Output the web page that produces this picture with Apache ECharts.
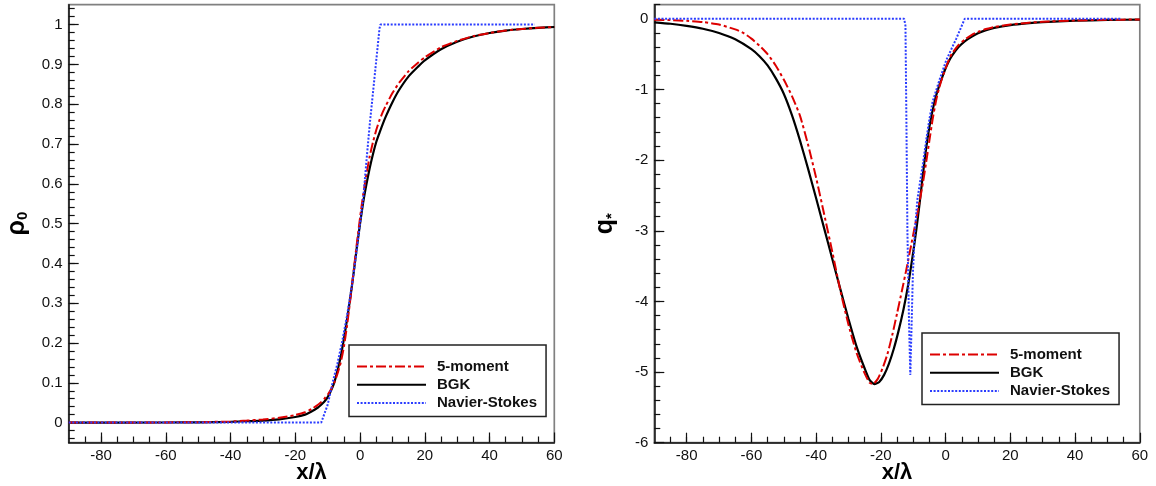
<!DOCTYPE html>
<html><head><meta charset="utf-8">
<script src="https://cdn.jsdelivr.net/npm/echarts@6/dist/echarts.min.js"></script>
<style>html,body{margin:0;padding:0;background:#fff}#c{width:1156px;height:486px}</style>
</head><body><div id="c"></div>
<script>
const seriesNames = ['5-moment', 'BGK', 'Navier-Stokes'];
const xMajorTicks = [-80, -60, -40, -20, 0, 20, 40, 60];
const rhoMajorTicks = [0, 0.1, 0.2, 0.3, 0.4, 0.5, 0.6, 0.7, 0.8, 0.9, 1];
const qMajorTicks = [-6, -5, -4, -3, -2, -1, 0];

// density profile rho_0 vs x/lambda
const rho5moment = [[-90,0],[-60,0.0005],[-50,0.001],[-40,0.003],[-35,0.005],[-30,0.008],[-25,0.012],[-20,0.019],[-17,0.026],[-15,0.034],[-13,0.045],[-12,0.052],[-11,0.06],[-10,0.07],[-9,0.083],[-8,0.1],[-7,0.122],[-6,0.15],[-5,0.19],[-4,0.245],[-3,0.31],[-2,0.38],[-1,0.45],[0,0.515],[1,0.575],[2,0.625],[3,0.67],[4,0.705],[5,0.735],[6,0.76],[7,0.78],[8,0.797],[10,0.828],[12,0.853],[15,0.883],[18,0.905],[20,0.918],[25,0.943],[30,0.959],[35,0.971],[40,0.979],[45,0.985],[50,0.989],[55,0.992],[60,0.994]];
const rhoBGK = [[-90,0],[-60,0.0003],[-50,0.0008],[-40,0.002],[-35,0.0035],[-30,0.005],[-25,0.008],[-20,0.014],[-17,0.02],[-15,0.028],[-13,0.038],[-12,0.045],[-11,0.053],[-10,0.064],[-9,0.08],[-8,0.1],[-7,0.13],[-6,0.165],[-5,0.21],[-4,0.26],[-3,0.315],[-2,0.375],[-1,0.44],[0,0.5],[1,0.555],[2,0.6],[3,0.64],[4,0.675],[5,0.705],[6,0.728],[7,0.75],[8,0.77],[10,0.805],[12,0.835],[15,0.87],[18,0.895],[20,0.91],[25,0.938],[30,0.957],[35,0.97],[40,0.979],[45,0.985],[50,0.989],[55,0.992],[60,0.994]];
const rhoNS = [[-90,0],[-12,0],[-11.5,0.003],[-10,0.045],[-8.5,0.1],[-7,0.148],[-5.5,0.205],[-4,0.27],[-2.5,0.345],[-1,0.435],[0,0.5],[1,0.565],[2,0.66],[3,0.75],[4,0.83],[5,0.91],[6,0.99],[6.3,1],[54,1]];

// heat flux q_* vs x/lambda
const q5moment = [[-90,-0.012],[-85,-0.018],[-80,-0.028],[-75,-0.045],[-70,-0.08],[-65,-0.15],[-62.5,-0.2],[-60,-0.28],[-57.5,-0.38],[-55,-0.5],[-52.5,-0.66],[-50,-0.86],[-47.5,-1.09],[-45,-1.37],[-42.5,-1.78],[-40,-2.25],[-37.5,-2.77],[-35,-3.3],[-32.5,-3.85],[-30,-4.33],[-27.5,-4.73],[-25,-5.02],[-23.5,-5.15],[-22.5,-5.17],[-21,-5.1],[-19.5,-4.95],[-18,-4.75],[-16.5,-4.48],[-15,-4.17],[-13.5,-3.85],[-12,-3.52],[-10.5,-3.17],[-9,-2.82],[-8,-2.58],[-7,-2.32],[-6,-2.03],[-5,-1.72],[-4,-1.42],[-3,-1.17],[-2,-0.98],[-1,-0.83],[0,-0.7],[1,-0.58],[2,-0.49],[4,-0.37],[6,-0.29],[8,-0.23],[10,-0.185],[12.5,-0.145],[15,-0.115],[20,-0.08],[25,-0.058],[30,-0.042],[40,-0.023],[50,-0.014],[60,-0.009]];
const qBGK = [[-90,-0.05],[-85,-0.07],[-80,-0.1],[-75,-0.14],[-70,-0.2],[-65,-0.29],[-60,-0.43],[-57.5,-0.53],[-55,-0.66],[-52.5,-0.84],[-50,-1.06],[-47.5,-1.36],[-45,-1.72],[-42.5,-2.12],[-40,-2.54],[-37.5,-2.97],[-35,-3.4],[-32.5,-3.83],[-30,-4.25],[-27.5,-4.64],[-25,-4.95],[-23.5,-5.11],[-22,-5.17],[-20.5,-5.14],[-19,-5.04],[-17.5,-4.88],[-16,-4.67],[-14.5,-4.41],[-13,-4.11],[-11.5,-3.75],[-10,-3.3],[-9,-2.97],[-8,-2.6],[-7,-2.2],[-6,-1.83],[-5,-1.53],[-4,-1.29],[-3,-1.1],[-2,-0.95],[-1,-0.82],[0,-0.7],[1,-0.6],[2,-0.52],[4,-0.4],[6,-0.315],[8,-0.255],[10,-0.205],[12.5,-0.16],[15,-0.128],[20,-0.088],[25,-0.063],[30,-0.046],[40,-0.026],[50,-0.016],[60,-0.01]];
const qNS = [[-90,0],[-12.8,0],[-12.4,-0.1],[-12.1,-1.5],[-11.8,-3.0],[-11.3,-4.3],[-10.9,-5.04],[-10.6,-4.5],[-10.1,-3.6],[-9.5,-3.0],[-8.7,-2.55],[-7,-2.05],[-6,-1.72],[-5,-1.42],[-4,-1.17],[-2,-0.88],[0.25,-0.58],[3.3,-0.28],[5.9,0],[54,0]];

function steps(a, b, s) { const r = []; for (let v = a; v <= b + 1e-9; v += s) r.push(Math.round(v * 1000) / 1000); return r; }
const xMinorTicks = steps(-85, 55, 5);
const rhoMinorTicks = steps(-0.04, 1.04, 0.02);
const qMinorTicks = steps(-5.8, 0.2, 0.2);

const FONT = 'Liberation Sans, Arial, Helvetica, sans-serif';
const AX = '#111';

function mainX(gi) {
  return {
    type: 'value', gridIndex: gi, min: -90, max: 60, position: 'bottom',
    axisLine: { show: true, onZero: false, lineStyle: { color: AX, width: 1.5 } },
    axisTick: { show: true, inside: true, length: 10, customValues: xMajorTicks, lineStyle: { color: AX, width: 1.2 } },
    axisLabel: { customValues: xMajorTicks, margin: 6, color: AX, fontSize: 15, fontFamily: FONT },
    splitLine: { show: false },
    name: 'x/λ', nameLocation: 'middle', nameGap: 19, nameMoveOverlap: false,
    nameTextStyle: { fontSize: 22, fontWeight: 'bold', color: '#000', fontFamily: FONT }
  };
}
function minorX(gi) {
  return {
    type: 'value', gridIndex: gi, min: -90, max: 60, position: 'bottom',
    axisLine: { show: false, onZero: false },
    axisTick: { show: true, inside: true, length: 6, customValues: xMinorTicks, lineStyle: { color: AX, width: 1.2 } },
    axisLabel: { show: false }, splitLine: { show: false }
  };
}
function mainY(gi, min, max, ticks, name, gap) {
  return {
    type: 'value', gridIndex: gi, min, max, position: 'left',
    axisLine: { show: true, onZero: false, lineStyle: { color: AX, width: 1.5 } },
    axisTick: { show: true, inside: true, length: 10, customValues: ticks, lineStyle: { color: AX, width: 1.2 } },
    axisLabel: { customValues: ticks, margin: 6, color: AX, fontSize: 15, fontFamily: FONT },
    splitLine: { show: false },
    name, nameLocation: 'middle', nameGap: gap,
    nameTextStyle: {
      color: '#000', fontFamily: FONT,
      rich: {
        a: { fontSize: 25, fontWeight: 'bold', lineHeight: 28, fontFamily: FONT, color: '#000' },
        b: { fontSize: 15, fontWeight: 'bold', lineHeight: 15, verticalAlign: 'bottom', fontFamily: FONT, color: '#000' }
      }
    }
  };
}
function minorY(gi, min, max, ticks) {
  return {
    type: 'value', gridIndex: gi, min, max, position: 'left',
    axisLine: { show: false, onZero: false },
    axisTick: { show: true, inside: true, length: 6, customValues: ticks, lineStyle: { color: AX, width: 1.2 } },
    axisLabel: { show: false }, splitLine: { show: false }
  };
}
function legendAt(left, top) {
  return {
    data: seriesNames, orient: 'vertical', left, top,
    itemWidth: 69, itemHeight: 15, itemGap: 3.3, padding: [14, 9, 6, 7],
    borderColor: '#222', borderWidth: 1.5, backgroundColor: '#fff', selectedMode: false,
    itemStyle: { opacity: 0, borderWidth: 0 },
    textStyle: { fontSize: 15, fontWeight: 'bold', color: '#111', fontFamily: FONT, padding: [0, 0, 0, 6] }
  };
}
const styles = {
  '5-moment': { color: '#dd0000', width: 2, type: [10, 3, 3, 3] },
  'BGK': { color: '#000000', width: 2.2, type: 'solid' },
  'Navier-Stokes': { color: '#2a3cff', width: 2, type: [2, 1.6] }
};
function line(name, data, xi, yi, smooth) {
  return {
    name, type: 'line', data, xAxisIndex: xi, yAxisIndex: yi,
    symbol: 'none', showSymbol: false, smooth: smooth ? 0.2 : false,
    lineStyle: styles[name], itemStyle: { color: styles[name].color },
    clip: true, animation: false, z: name === 'Navier-Stokes' ? 4 : (name === '5-moment' ? 3 : 2)
  };
}

const chart = echarts.init(document.getElementById('c'));
chart.setOption({
  animation: false,
  backgroundColor: '#fff',
  grid: [
    { left: 68.7, top: 4.7, width: 485.6, height: 437.8, show: true, borderColor: '#808080', borderWidth: 1.7, backgroundColor: 'transparent', containLabel: false, outerBoundsMode: 'none' },
    { left: 654.3, top: 4.7, width: 485.5, height: 438, show: true, borderColor: '#808080', borderWidth: 1.7, backgroundColor: 'transparent', containLabel: false, outerBoundsMode: 'none' }
  ],
  xAxis: [mainX(0), minorX(0), mainX(1), minorX(1)],
  yAxis: [
    mainY(0, -0.05, 1.05, rhoMajorTicks, '{a|ρ}{b|0}', 38),
    minorY(0, -0.05, 1.05, rhoMinorTicks),
    mainY(1, -6, 0.2, qMajorTicks, '{a|q}{b|*}', 35),
    minorY(1, -6, 0.2, qMinorTicks)
  ],
  legend: [legendAt(349, 345), legendAt(922, 333)],
  series: [
    line('BGK', rhoBGK, 0, 0, true),
    line('5-moment', rho5moment, 0, 0, true),
    line('Navier-Stokes', rhoNS, 0, 0, false),
    line('BGK', qBGK, 2, 2, true),
    line('5-moment', q5moment, 2, 2, true),
    line('Navier-Stokes', qNS, 2, 2, false)
  ]
});
</script></body></html>
